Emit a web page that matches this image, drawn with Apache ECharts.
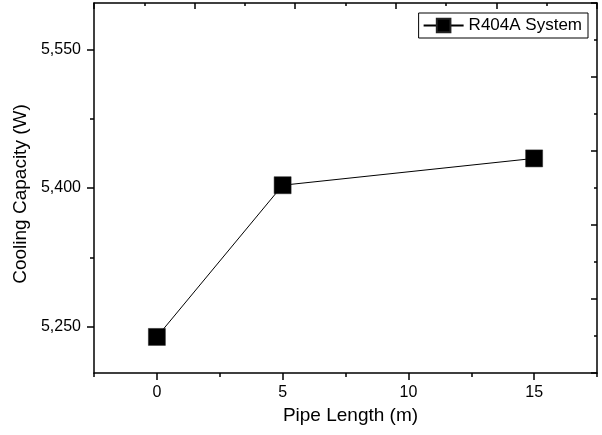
<!DOCTYPE html>
<html>
<head>
<meta charset="utf-8">
<script src="https://cdn.jsdelivr.net/npm/echarts@6/dist/echarts.min.js"></script>
<style>
html,body{margin:0;padding:0;background:#fff;}
#c{width:602px;height:435px;}
</style>
</head>
<body>
<div id="c"></div>
<script>
// Data
const seriesName = 'R404A System';
const pipeLength = [0, 5, 15];
const coolingCapacity = [5239, 5403, 5432];
// Tick labels
const xMajorTicks = [0, 5, 10, 15];
const xMinorTicks = [-2.5, 2.5, 7.5, 12.5, 17.5];
const yMajorTicks = [5250, 5400, 5550];
const yMinorTicks = [5325, 5475];

const FONT = 'Liberation Sans, Arial, sans-serif';
const AX = {color: '#000', width: 1.5};

const chart = echarts.init(document.getElementById('c'));
chart.setOption({
  animation: false,
  backgroundColor: '#fff',
  textStyle: {fontFamily: FONT, color: '#000'},
  grid: {left: 94, top: 3, right: 5, bottom: 62, containLabel: false},
  legend: {
    right: 14, top: 13,
    orient: 'horizontal',
    padding: [4, 6, 4, 4],
    borderColor: '#000', borderWidth: 1,
    itemWidth: 40, itemHeight: 17,
    textStyle: {fontFamily: FONT, fontSize: 17, color: '#000'},
    data: [seriesName]
  },
  xAxis: [
    {
      type: 'value', position: 'bottom', min: -2.5, max: 17.5,
      name: 'Pipe Length (m)', nameLocation: 'middle', nameGap: 27,
      nameTextStyle: {fontFamily: FONT, fontSize: 19, color: '#000', padding: [0, 0, 0, 10]},
      axisLine: {show: true, onZero: false, lineStyle: AX},
      axisTick: {show: true, inside: false, length: 7, lineStyle: AX, customValues: xMajorTicks},
      axisLabel: {show: true, margin: 12, fontSize: 16, color: '#000', fontFamily: FONT, customValues: xMajorTicks},
      splitLine: {show: false}
    },
    {
      type: 'value', position: 'bottom', min: -2.5, max: 17.5,
      axisLine: {show: false, onZero: false},
      axisTick: {show: true, inside: false, length: 4, lineStyle: AX, customValues: xMinorTicks},
      axisLabel: {show: false},
      splitLine: {show: false}
    },
    {
      type: 'value', position: 'top', min: 0, max: 10, interval: 2,
      axisLine: {show: true, onZero: false, lineStyle: AX},
      axisTick: {show: true, inside: true, length: 6, lineStyle: AX},
      minorTick: {show: true, splitNumber: 2, length: 3, lineStyle: AX},
      axisLabel: {show: false},
      splitLine: {show: false}
    }
  ],
  yAxis: [
    {
      type: 'value', position: 'left', min: 5200, max: 5600,
      name: 'Cooling Capacity (W)', nameLocation: 'middle', nameGap: 57, nameRotate: 90,
      nameTextStyle: {fontFamily: FONT, fontSize: 19, color: '#000', padding: [0, 12, 0, 0]},
      axisLine: {show: true, onZero: false, lineStyle: AX},
      axisTick: {show: true, inside: false, length: 7, lineStyle: AX, customValues: yMajorTicks},
      axisLabel: {
        show: true, margin: 13, fontSize: 16, color: '#000', fontFamily: FONT,
        customValues: yMajorTicks,
        formatter: v => v.toLocaleString('en-US')
      },
      splitLine: {show: false}
    },
    {
      type: 'value', position: 'left', min: 5200, max: 5600,
      axisLine: {show: false, onZero: false},
      axisTick: {show: true, inside: false, length: 4, lineStyle: AX, customValues: yMinorTicks},
      axisLabel: {show: false},
      splitLine: {show: false}
    },
    {
      type: 'value', position: 'right', min: 0, max: 10, interval: 2,
      axisLine: {show: true, onZero: false, lineStyle: AX},
      axisTick: {show: true, inside: true, length: 6, lineStyle: AX},
      minorTick: {show: true, splitNumber: 2, length: 3, lineStyle: AX},
      axisLabel: {show: false},
      splitLine: {show: false}
    }
  ],
  series: [{
    name: seriesName,
    type: 'line',
    xAxisIndex: 0, yAxisIndex: 0,
    data: pipeLength.map((x, i) => [x, coolingCapacity[i]]),
    symbol: 'rect', symbolSize: 17,
    lineStyle: {color: '#000', width: 1},
    itemStyle: {color: '#000', borderColor: '#222', borderWidth: 0.5},
    clip: false
  }]
});
</script>
</body>
</html>
